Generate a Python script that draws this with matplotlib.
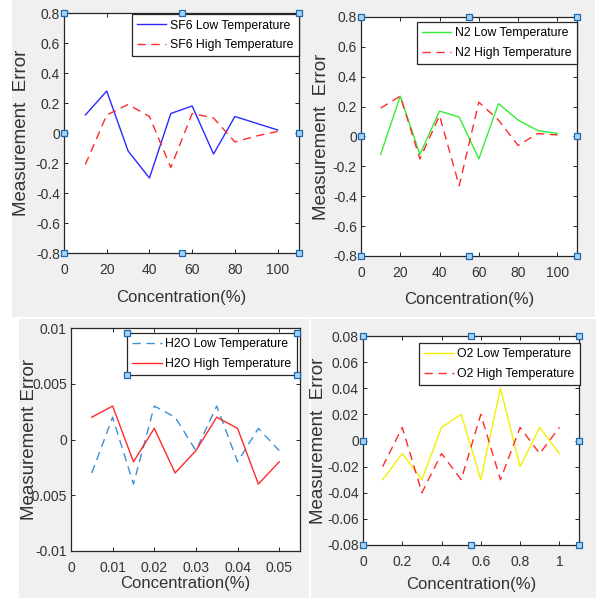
import matplotlib
matplotlib.use("Agg")
import matplotlib.pyplot as plt
from matplotlib.patches import Rectangle
from matplotlib.ticker import FuncFormatter

plt.rcParams['axes.unicode_minus'] = False
FONT = ['Liberation Sans Narrow', 'Liberation Sans', 'DejaVu Sans']

# ---- data ----
x_pct = [10, 20, 30, 40, 50, 60, 70, 80, 90, 100]
sf6_low = [0.12, 0.28, -0.12, -0.30, 0.13, 0.18, -0.14, 0.11, 0.065, 0.02]
sf6_high = [-0.21, 0.12, 0.19, 0.11, -0.23, 0.13, 0.10, -0.06, -0.02, 0.01]

n2_low = [-0.12, 0.27, -0.12, 0.17, 0.13, -0.15, 0.22, 0.11, 0.04, 0.02]
n2_high = [0.19, 0.27, -0.15, 0.14, -0.33, 0.23, 0.11, -0.06, 0.02, 0.01]

x_h2o = [0.005, 0.01, 0.015, 0.02, 0.025, 0.03, 0.035, 0.04, 0.045, 0.05]
h2o_low = [-0.003, 0.002, -0.004, 0.003, 0.002, -0.001, 0.003, -0.002, 0.001, -0.001]
h2o_high = [0.002, 0.003, -0.002, 0.001, -0.003, -0.001, 0.002, 0.001, -0.004, -0.002]

x_o2 = [0.1, 0.2, 0.3, 0.4, 0.5, 0.6, 0.7, 0.8, 0.9, 1.0]
o2_low = [-0.03, -0.01, -0.03, 0.01, 0.02, -0.03, 0.04, -0.02, 0.01, -0.01]
o2_high = [-0.02, 0.01, -0.04, -0.01, -0.03, 0.02, -0.03, 0.01, -0.01, 0.01]

W, H = 606, 598
fig = plt.figure(figsize=(W / 100, H / 100), dpi=100)
fig.patch.set_facecolor('white')

def box(x0, y0, x1, y1):
    # pixel box (top-left origin) -> figure fraction rect
    return [x0 / W, 1 - y1 / H, (x1 - x0) / W, (y1 - y0) / H]

# grey screenshot backgrounds
for x0, y0, x1, y1 in [(12, 0, 595, 317), (19, 319, 309, 598), (311, 319, 596, 598)]:
    r = box(x0, y0, x1, y1)
    fig.add_artist(Rectangle((r[0], r[1]), r[2], r[3], transform=fig.transFigure,
                             facecolor='#f0f0f0', edgecolor='none', zorder=0))

fmt = FuncFormatter(lambda v, p: '%g' % round(v, 6))
HANDLE = dict(marker='s', markersize=5, markerfacecolor='#a9d3f5',
              markeredgecolor='#1c68b0', markeredgewidth=0.9, linestyle='none',
              clip_on=False, zorder=10)

def panel(rect, xs, low, high, low_style, high_style, labels, xlim, xticks, ylim,
          yticks, ylabel, ylab_x, xlab_y, leg_off, handles_on_axes=True):
    ax = fig.add_axes(box(*rect))
    aw, ah = rect[2] - rect[0], rect[3] - rect[1]
    ax.plot(xs, low, **low_style, label=labels[0])
    ax.plot(xs, high, **high_style, label=labels[1])
    ax.set_xlim(*xlim)
    ax.set_ylim(*ylim)
    ax.set_xticks(xticks)
    ax.set_yticks(yticks)
    ax.xaxis.set_major_formatter(fmt)
    ax.yaxis.set_major_formatter(fmt)
    ax.tick_params(direction='in', top=True, right=True, length=3, width=0.7,
                   colors='#262626', labelsize=10)
    ax.tick_params(axis='x', pad=7)
    ax.tick_params(axis='y', pad=3)
    for t in ax.get_xticklabels() + ax.get_yticklabels():
        t.set_family(FONT)
        t.set_color('#333333')
    for s in ax.spines.values():
        s.set_color('#262626')
        s.set_linewidth(0.9)
    ax.set_xlabel('Concentration(%)', family=FONT, fontsize=12, color='#333333')
    ax.set_ylabel(ylabel, family=FONT, fontsize=13.5, color='#333333')
    ax.yaxis.set_label_coords(ylab_x, 0.5)
    ax.xaxis.set_label_coords(0.5, xlab_y)
    leg = ax.legend(loc='upper right',
                    bbox_to_anchor=(1 + leg_off[0] / aw, 1 - leg_off[1] / ah),
                    borderaxespad=0, prop={'family': FONT, 'size': 8.8},
                    fancybox=False, framealpha=1, edgecolor='#262626',
                    handlelength=2.4, handletextpad=0.3, borderpad=0.45,
                    labelspacing=0.6)
    leg.get_frame().set_linewidth(0.9)
    if handles_on_axes:
        for hx, hy in [(0, 0), (0, 0.5), (0, 1), (0.5, 0), (0.5, 1), (1, 0), (1, 0.5), (1, 1)]:
            ax.plot([hx], [hy], transform=ax.transAxes, **HANDLE)
    return ax, leg

solid = lambda c: dict(color=c, linewidth=1.0)
dashed = lambda c: dict(color=c, linewidth=1.0, linestyle=(0, (6, 4)))

ax1, _ = panel((64, 13, 299, 253), x_pct, sf6_low, sf6_high, solid('#2b2bff'),
               dashed('#ff2a2a'), ['SF6 Low Temperature', 'SF6 High Temperature'],
               (0, 110), [0, 20, 40, 60, 80, 100], (-0.8, 0.8),
               [-0.8, -0.6, -0.4, -0.2, 0, 0.2, 0.4, 0.6, 0.8],
               'Measurement  Error', -0.145, -0.154, (0, 1))

ax2, _ = panel((361, 17, 577, 256), x_pct, n2_low, n2_high, solid('#33ee33'),
               dashed('#ff2a2a'), ['N2 Low Temperature', 'N2 High Temperature'],
               (0, 110), [0, 20, 40, 60, 80, 100], (-0.8, 0.8),
               [-0.8, -0.6, -0.4, -0.2, 0, 0.2, 0.4, 0.6, 0.8],
               'Measurement  Error', -0.143, -0.15, (0, 5))

ax3, leg3 = panel((71, 328, 300, 551), x_h2o, h2o_low, h2o_high, dashed('#3d8fd6'),
                  solid('#ff2a2a'), ['H2O Low Temperature', 'H2O High Temperature'],
                  (0, 0.055), [0, 0.01, 0.02, 0.03, 0.04, 0.05], (-0.01, 0.01),
                  [-0.01, -0.005, 0, 0.005, 0.01],
                  'Measurement Error', -0.145, -0.112, (-3, 5), handles_on_axes=False)

ax4, _ = panel((363, 336, 579, 545), x_o2, o2_low, o2_high, solid('#f2f200'),
               dashed('#ff2a2a'), ['O2 Low Temperature', 'O2 High Temperature'],
               (0, 1.1), [0, 0.2, 0.4, 0.6, 0.8, 1.0], (-0.08, 0.08),
               [-0.08, -0.06, -0.04, -0.02, 0, 0.02, 0.04, 0.06, 0.08],
               'Measurement  Error', -0.168, -0.153, (1, 7))

# selection handles on the H2O legend corners
fig.canvas.draw()
bb = leg3.get_window_extent().transformed(ax3.transAxes.inverted())
for hx, hy in [(bb.x0, bb.y0), (bb.x0, bb.y1), (bb.x1, bb.y0), (bb.x1, bb.y1)]:
    ax3.plot([hx], [hy], transform=ax3.transAxes, **HANDLE)

fig.savefig('out.png', dpi=100, facecolor='white')
